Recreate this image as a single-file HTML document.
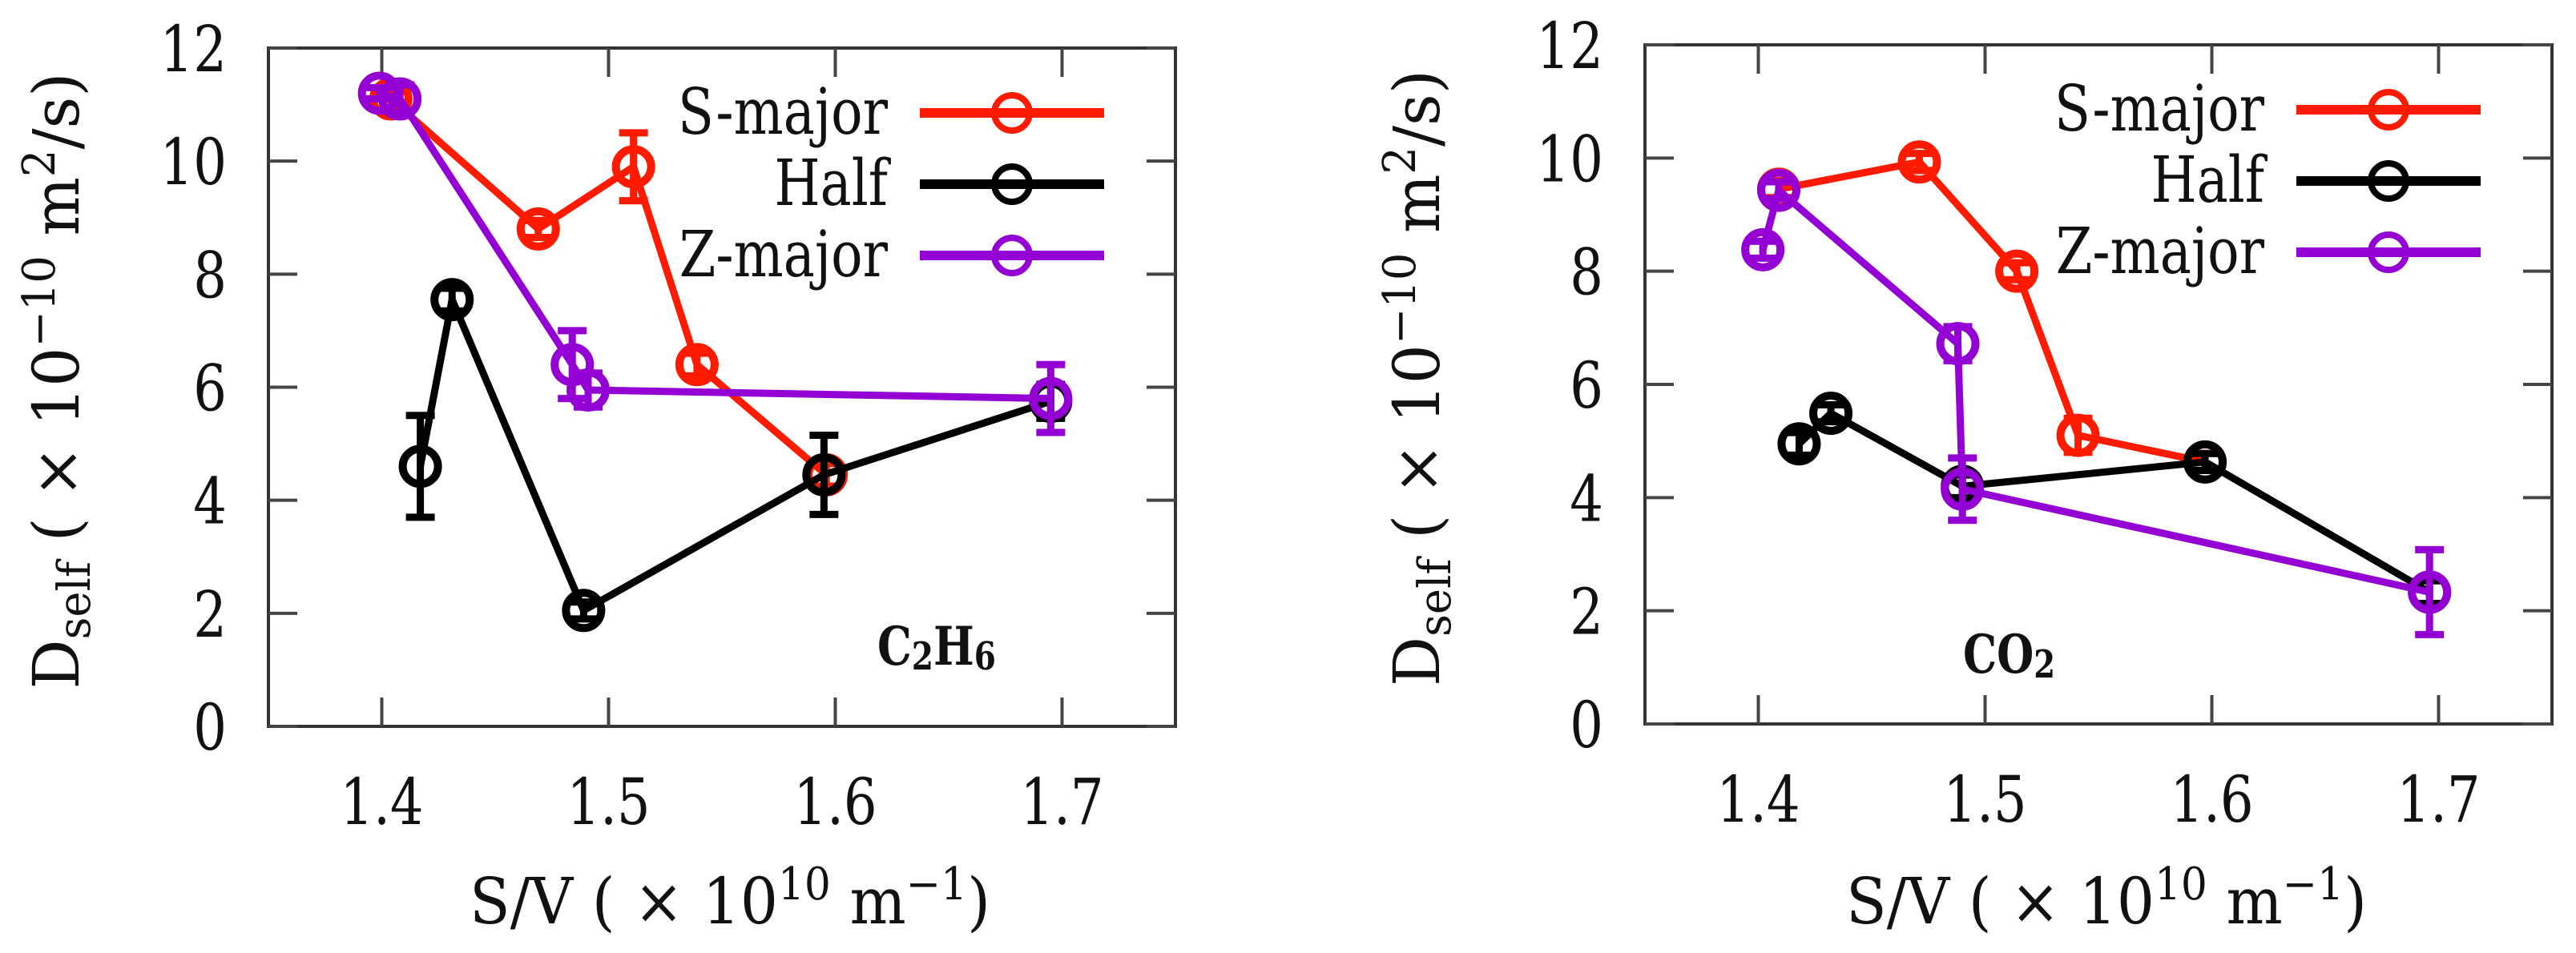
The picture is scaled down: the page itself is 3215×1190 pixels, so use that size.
<!DOCTYPE html>
<html><head><meta charset="utf-8">
<style>
html,body{margin:0;padding:0;background:#fff;}
svg{display:block;}
text{font-family:"DejaVu Serif","Liberation Serif",serif;fill:#111;}
</style></head>
<body>
<svg id="fig" width="3215" height="1190" viewBox="0 0 3215 1190" xmlns="http://www.w3.org/2000/svg"></svg>
<script>
// Shared axis data
const xTicks = [1.4, 1.5, 1.6, 1.7];
const xTickLabels = ["1.4", "1.5", "1.6", "1.7"];
const yTicks = [0, 2, 4, 6, 8, 10, 12];
const yTickLabels = ["0", "2", "4", "6", "8", "10", "12"];
const seriesNames = ["S-major", "Half", "Z-major"];

// C2H6 panel
const c2SX = [1.404, 1.469, 1.511, 1.539, 1.596];
const c2SY = [11.1, 8.8, 9.9, 6.4, 4.45];
const c2SE = [0.2, 0.15, 0.6, 0.2, 0.2];
const c2HX = [1.417, 1.431, 1.489, 1.595, 1.695];
const c2HY = [4.6, 7.55, 2.05, 4.45, 5.75];
const c2HE = [0.9, 0.2, 0.15, 0.7, 0.3];
const c2ZX = [1.399, 1.408, 1.484, 1.491, 1.695];
const c2ZY = [11.2, 11.1, 6.4, 5.95, 5.8];
const c2ZE = [0.1, 0.25, 0.6, 0.3, 0.6];

// CO2 panel
const coSX = [1.409, 1.471, 1.514, 1.541, 1.597];
const coSY = [9.45, 9.93, 8.0, 5.1, 4.63];
const coSE = [0.15, 0.15, 0.15, 0.3, 0.15];
const coHX = [1.418, 1.432, 1.490, 1.597, 1.696];
const coHY = [4.95, 5.49, 4.2, 4.63, 2.33];
const coHE = [0.2, 0.15, 0.2, 0.15, 0.2];
const coZX = [1.402, 1.409, 1.488, 1.490, 1.696];
const coZY = [8.38, 9.43, 6.72, 4.15, 2.33];
const coZE = [0.15, 0.15, 0.3, 0.55, 0.75];

const NS = "http://www.w3.org/2000/svg";
const svg = document.getElementById("fig");
const colors = ["#ff1a00", "#000000", "#9400d3"];
const SX = 0.82;

function mk(tag, attrs, parent) {
  const e = document.createElementNS(NS, tag);
  for (const k in attrs) e.setAttribute(k, attrs[k]);
  (parent || svg).appendChild(e);
  return e;
}
function ctext(parent, x, y, anchor, size, extra) {
  const a = {x: 0, y: 0, "text-anchor": anchor, "font-size": size, transform: `translate(${x},${y}) scale(${SX},1)`};
  for (const k in (extra || {})) a[k] = extra[k];
  return mk("text", a, parent);
}

function panel(p) {
  const g = mk("g", {});
  
  
  const xs = v => p.L + (v - 1.35) / 0.4 * (p.R - p.L);
  const ys = v => p.B - v / 12 * (p.B - p.T);

  const fr = mk("rect", {x: p.L, y: p.T, width: p.R - p.L, height: p.B - p.T, fill: "none", stroke: "#333", "stroke-width": 4}, g);
  
  

  const tl = 36;
  yTicks.forEach((v, i) => {
    const y = ys(v);
    const t1 = mk("line", {x1: p.L, x2: p.L + tl, y1: y, y2: y, stroke: "#444", "stroke-width": 4}, g);
    
    
    const t2 = mk("line", {x1: p.R, x2: p.R - tl, y1: y, y2: y, stroke: "#444", "stroke-width": 4}, g);
    
    
    const tx = ctext(g, p.L - 52, y + 29, "end", 80);
    tx.textContent = yTickLabels[i];
    
    
  });
  xTicks.forEach((v, i) => {
    const x = xs(v);
    const t1 = mk("line", {x1: x, x2: x, y1: p.B, y2: p.B - tl, stroke: "#444", "stroke-width": 4}, g);
    
    
    const t2 = mk("line", {x1: x, x2: x, y1: p.T, y2: p.T + tl, stroke: "#444", "stroke-width": 4}, g);
    
    
    const tx = ctext(g, x, p.B + 122, "middle", 80);
    tx.textContent = xTickLabels[i];
    
    
  });

  const yl = mk("text", {transform: `translate(${p.yLabX},${(p.T + p.B) / 2 - 8}) rotate(-90)`, "text-anchor": "middle", "font-size": 80, textLength: 770, lengthAdjust: "spacingAndGlyphs"}, g);
  yl.innerHTML = 'D<tspan font-size="56" dy="14">self</tspan><tspan dy="-14"> ( × 10</tspan><tspan font-size="56" dy="-30">−10</tspan><tspan dy="30"> m</tspan><tspan font-size="56" dy="-30">2</tspan><tspan dy="30">/s)</tspan>';
  
  
  const xl = mk("text", {x: (p.L + p.R) / 2 + 10, y: 1153, "text-anchor": "middle", "font-size": 80, textLength: 650, lengthAdjust: "spacingAndGlyphs"}, g);
  xl.innerHTML = 'S/V ( × 10<tspan font-size="56" dy="-30">10</tspan><tspan dy="30"> m</tspan><tspan font-size="56" dy="-30">−1</tspan><tspan dy="30">)</tspan>';
  
  

  const sl = mk("text", {x: p.specX, y: p.specY, "font-size": 66, "font-weight": "bold", textLength: p.specW, lengthAdjust: "spacingAndGlyphs"}, g);
  sl.innerHTML = p.specHTML;
  
  

  p.series.forEach((s, si) => {
    const sg = mk("g", {}, g);
    
    
    const c = colors[si];
    const pts = s.x.map((v, i) => xs(v) + "," + ys(s.y[i])).join(" ");
    const pl = mk("polyline", {points: pts, fill: "none", stroke: c, "stroke-width": 9, "stroke-linejoin": "round"}, sg);
    
    
    s.x.forEach((v, i) => {
      const cx = xs(v), cy = ys(s.y[i]);
      const y1 = ys(s.y[i] + s.e[i]), y2 = ys(s.y[i] - s.e[i]);
      const eb = mk("path", {d: `M${cx},${y1}V${y2}M${cx - 18},${y1}H${cx + 18}M${cx - 18},${y2}H${cx + 18}`, stroke: c, "stroke-width": 9, fill: "none"}, sg);
      
      
      const ci = mk("circle", {cx: cx, cy: cy, r: 22, fill: "none", stroke: c, "stroke-width": 10}, sg);
      
      
    });
  });

  const lg = mk("g", {}, g);
  
  
  const rows = [p.T + 81, p.T + 170, p.T + 259];
  seriesNames.forEach((n, i) => {
    const y = rows[i];
    const le = mk("g", {}, lg);
    
    
    const t = ctext(le, p.R - 359, y + 26, "end", 80);
    t.textContent = n;
    mk("line", {x1: p.R - 319, x2: p.R - 89, y1: y, y2: y, stroke: colors[i], "stroke-width": 12}, le);
    mk("circle", {cx: p.R - 204, cy: y, r: 22, fill: "none", stroke: colors[i], "stroke-width": 8}, le);
  });
}

panel({name: "c2h6-panel", L: 335, R: 1467, T: 60, B: 907, yLabX: 98,
  specX: 1095, specY: 830, specW: 148, specHTML: 'C<tspan font-size="48" dy="6">2</tspan><tspan dy="-6">H</tspan><tspan font-size="48" dy="6">6</tspan>',
  series: [{x: c2SX, y: c2SY, e: c2SE}, {x: c2HX, y: c2HY, e: c2HE}, {x: c2ZX, y: c2ZY, e: c2ZE}]});
panel({name: "co2-panel", L: 2053, R: 3185, T: 56, B: 904, yLabX: 1796,
  specX: 2450, specY: 840, specW: 115, specHTML: 'CO<tspan font-size="48" dy="6">2</tspan>',
  series: [{x: coSX, y: coSY, e: coSE}, {x: coHX, y: coHY, e: coHE}, {x: coZX, y: coZY, e: coZE}]});
</script>
</body></html>
